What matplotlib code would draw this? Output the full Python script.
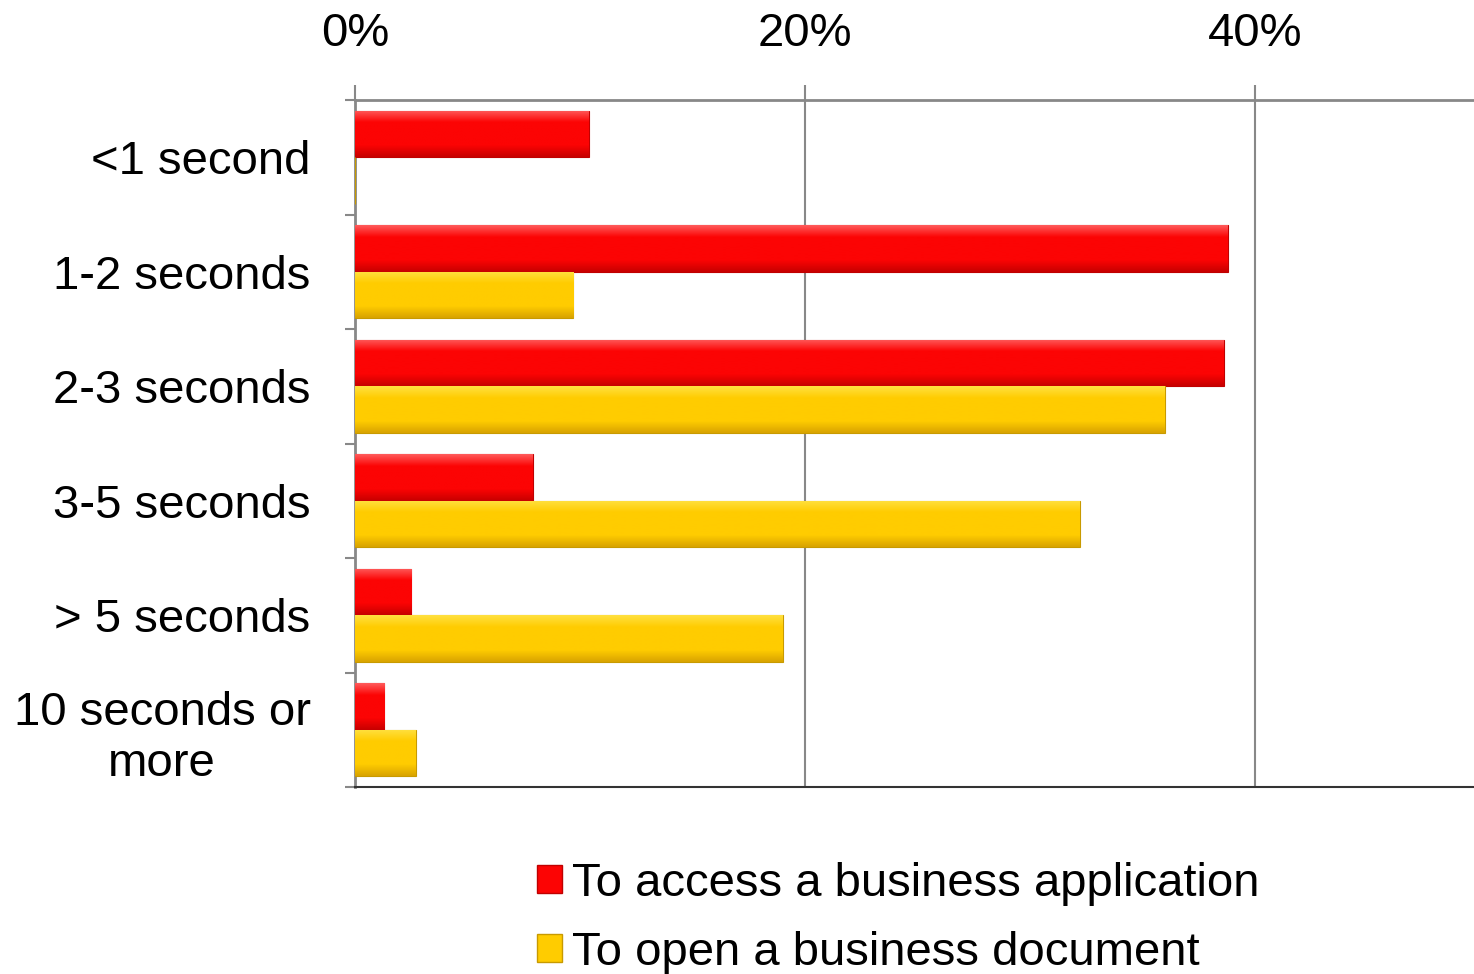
import matplotlib
matplotlib.use("Agg")
import matplotlib.pyplot as plt
import numpy as np
from matplotlib.colors import LinearSegmentedColormap
from matplotlib.patches import Patch

plt.rcParams['font.family'] = ['Liberation Sans', 'DejaVu Sans']

categories = ["<1 second", "1-2 seconds", "2-3 seconds", "3-5 seconds",
              "> 5 seconds", "10 seconds or\nmore"]
access_app = [10.4, 38.8, 38.6, 7.9, 2.5, 1.3]
open_doc = [0.0, 9.7, 36.0, 32.2, 19.0, 2.7]
series_names = ["To access a business application", "To open a business document"]
x_ticks = [0, 20, 40]
x_ticklabels = ["0%", "20%", "40%"]

RED = "#fc0404"
YELLOW = "#ffcc00"
FS = 34

W, H = 1474, 974
fig = plt.figure(figsize=(W / 100, H / 100), dpi=100)
left, right, top, bottom = 355, 1474, 100, 787
ax = fig.add_axes([left / W, 1 - bottom / H, (right - left) / W, (bottom - top) / H])

y = np.arange(len(categories))
bh = 0.405
b1 = ax.barh(y - bh / 2, access_app, height=bh, color=RED, edgecolor="#c00000", linewidth=0.8, zorder=3)
b2 = ax.barh(y + bh / 2, open_doc, height=bh, color=YELLOW, edgecolor="#c89a00", linewidth=0.8, zorder=3)

# bevel-like gradient overlay
def shade(bars, base, light, dark):
    cmap = LinearSegmentedColormap.from_list("g", [light, base, base, base, dark])
    grad = np.linspace(0, 1, 64).reshape(-1, 1)
    for p in bars:
        w = p.get_width()
        if w <= 0:
            continue
        x0, y0 = p.get_x(), p.get_y()
        hh = p.get_height()
        im = ax.imshow(grad, cmap=cmap, aspect="auto", origin="upper",
                       extent=[x0, x0 + w, y0 + hh, y0], zorder=3.5, interpolation="bilinear")
        im.set_clip_path(p)

shade(b1, RED, "#ff5a5a", "#c80000")
shade(b2, YELLOW, "#ffe040", "#d9a400")

ax.set_xlim(0, (right - left) / 22.5)
ax.set_ylim(len(categories) - 0.5, -0.5)

ax.xaxis.tick_top()
ax.set_xticks(x_ticks)
ax.set_xticklabels(x_ticklabels, fontsize=FS)
ax.tick_params(axis="x", which="major", length=11, width=1.5, color="#888888", pad=21, direction="out")
ax.xaxis.grid(True, color="#888888", linewidth=1.5, zorder=0)
ax.set_axisbelow(True)

ax.set_yticks(y)
ax.set_yticklabels(categories, fontsize=FS, multialignment="center", linespacing=1.2)
ax.set_yticks(np.arange(-0.5, len(categories), 1), minor=True)
ax.tick_params(axis="y", which="major", length=0, pad=32)
ax.tick_params(axis="y", which="minor", length=7, width=1.5, color="#888888", direction="out")

for s in ["top", "left"]:
    ax.spines[s].set_color("#888888")
    ax.spines[s].set_linewidth(2)
ax.spines["bottom"].set_color("#333333")
ax.spines["bottom"].set_linewidth(1.5)
ax.spines["right"].set_visible(False)

handles = [Patch(facecolor=RED, edgecolor="#c00000"), Patch(facecolor=YELLOW, edgecolor="#c89a00")]
fig.legend(handles, series_names, loc="upper left", bbox_to_anchor=(537 / W, 1 - 862 / H),
           frameon=False, fontsize=FS, handlelength=0.53, handleheight=0.53,
           handletextpad=0.22, labelspacing=0.52, borderaxespad=0, borderpad=0)

fig.savefig("out.png", dpi=100)
